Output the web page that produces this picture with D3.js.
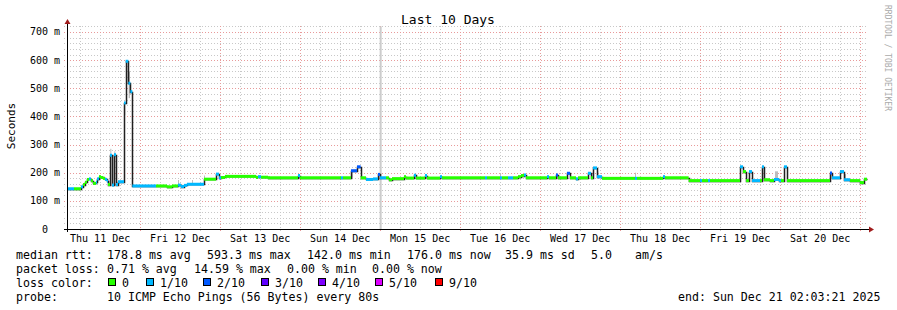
<!DOCTYPE html>
<html>
<head>
<meta charset="utf-8">
<script src="https://cdn.jsdelivr.net/npm/d3@7"></script>
<style>
body { margin: 0; background: #fff; }
text { font-family: "DejaVu Sans Mono", monospace; white-space: pre; }
</style>
</head>
<body>
<svg id="chart" width="897" height="310"></svg>
<script>
// time range of the graph
const startTime = new Date(2025, 11, 11, 2, 3, 21);
const endTime = new Date(2025, 11, 21, 2, 3, 21);

// median rtt steps: [hours since start, median ms, lost pings out of 10]
const medianSteps = [
    [0, 143, 1], [2.1, 143, 0], [4.2, 150, 1], [4.8, 158, 0], [5.4, 166, 0],
    [6.0, 176, 0], [6.6, 178, 1], [7.2, 172, 0], [7.8, 162, 0], [8.7, 166, 1],
    [9.0, 178, 1], [9.6, 186, 0], [10.2, 183, 0], [10.8, 180, 0], [11.4, 176, 1],
    [12.0, 170, 1], [12.3, 158, 0], [12.9, 262, 1], [13.5, 156, 1], [14.1, 264, 1],
    [14.7, 158, 1], [15.3, 168, 1], [17.1, 448, 1], [17.6, 596, 1], [18.4, 518, 1],
    [19.0, 488, 1], [19.6, 153, 1], [26.7, 153, 0], [30.0, 150, 0], [31.5, 153, 0],
    [33.3, 156, 1], [34.2, 151, 1], [35.1, 155, 1], [36.0, 159, 1], [41.1, 177, 0],
    [44.7, 195, 1], [45.6, 182, 1], [46.2, 183, 0], [47.4, 187, 0], [56.7, 183, 0],
    [57.3, 186, 1], [58.2, 184, 0], [60.3, 182, 0], [69.3, 190, 1], [69.9, 182, 0],
    [82.2, 182, 1], [82.8, 182, 0], [85.2, 207, 2], [87.0, 221, 2], [88.1, 182, 0],
    [89.7, 176, 1], [91.8, 178, 1], [93.3, 194, 2], [93.9, 182, 1], [95.7, 182, 0],
    [96.6, 175, 0], [97.5, 179, 0], [101.1, 186, 0], [101.7, 181, 0], [104.1, 191, 1],
    [104.7, 181, 0], [107.4, 190, 1], [108.0, 181, 0], [111.9, 186, 1], [112.5, 182, 0],
    [125.4, 182, 1], [126.0, 182, 0], [129.9, 182, 1], [130.5, 182, 0], [132.3, 182, 1],
    [133.8, 182, 0], [135.3, 186, 0], [136.2, 190, 0], [137.1, 192, 1], [137.7, 182, 0],
    [144.0, 186, 1], [144.6, 182, 0], [146.7, 192, 2], [147.3, 182, 0], [150.0, 198, 2],
    [150.9, 182, 0], [152.7, 178, 1], [153.3, 182, 0], [156.3, 198, 1], [157.2, 182, 0],
    [157.8, 217, 1], [159.0, 186, 1], [160.5, 180, 0], [170.4, 180, 1], [171.0, 180, 0],
    [178.8, 186, 1], [179.4, 182, 0], [186.5, 172, 0], [189.9, 172, 1], [190.5, 172, 0],
    [192.3, 172, 1], [192.9, 172, 0], [201.9, 221, 1], [202.8, 204, 0], [203.7, 172, 0],
    [204.6, 204, 1], [205.5, 172, 1], [207.9, 172, 0], [208.5, 221, 1], [209.1, 175, 0],
    [210.9, 172, 0], [212.1, 176, 1], [213.6, 172, 1], [214.2, 172, 0], [215.1, 221, 1],
    [216.0, 172, 0], [228.9, 199, 2], [229.5, 182, 1], [231.9, 204, 1], [233.1, 175, 1],
    [234.9, 172, 0], [237.9, 165, 0], [239.1, 177, 0]
];

// smoke (spread of the pings): [hour from, hour to, low ms, high ms]
const smoke = [
    [13.0, 13.3, 262, 285], [14.2, 14.5, 264, 276], [17.2, 17.5, 405, 440],
    [18.5, 18.9, 465, 560], [33.3, 33.6, 156, 174], [37.5, 37.8, 160, 174],
    [41.1, 41.4, 177, 190], [60.6, 60.9, 182, 188], [85.2, 85.8, 182, 210],
    [129.9, 130.2, 182, 198], [159.0, 159.4, 186, 205], [170.4, 170.7, 180, 200],
    [212.4, 213.3, 176, 205], [233.4, 233.7, 175, 195]
];

// unknown data span (drawn as gray column)
const unknownSpans = [[93.8, 94.4]];

const yTicks = [0, 100, 200, 300, 400, 500, 600, 700];
const lossColors = ["#26ff00", "#00b8ff", "#0059ff", "#5e00ff", "#7e00ff", "#dd00ff", "#ff0000"];
const lossLabels = ["0", "1/10", "2/10", "3/10", "4/10", "5/10", "9/10"];

const svg = d3.select("#chart");

const x = d3.scaleTime().domain([startTime, endTime]).range([67, 867]);
const y = d3.scaleLinear().domain([0, 720]).range([229, 229 - 720 * 0.28143]);
const hourToDate = h => new Date(startTime.getTime() + h * 3600e3);
const px = v => Math.round(v) + 0.5;
const hx = h => x(hourToDate(h));

function lossIndex(n) {
    if (n <= 4) return n;
    if (n <= 8) return 5;
    return 6;
}

svg.append("rect").attr("width", 897).attr("height", 310).attr("fill", "#fff");

// grid
const grid = svg.append("g").attr("fill", "none").attr("stroke-width", 1);

d3.range(20, 721, 20).filter(v => v % 100 !== 0).forEach(v => {
    grid.append("line")
        .attr("x1", 64).attr("x2", 868)
        .attr("y1", px(y(v))).attr("y2", px(y(v)))
        .attr("stroke", "#c8c8c8").attr("stroke-dasharray", "1,2");
});
d3.timeHour.every(6).range(startTime, endTime).filter(d => d.getHours() !== 0).forEach(d => {
    grid.append("line")
        .attr("x1", px(x(d))).attr("x2", px(x(d)))
        .attr("y1", 26).attr("y2", 232)
        .attr("stroke", "#c8c8c8").attr("stroke-dasharray", "1,2");
});
yTicks.filter(v => v > 0).forEach(v => {
    grid.append("line")
        .attr("x1", 64).attr("x2", 868)
        .attr("y1", px(y(v))).attr("y2", px(y(v)))
        .attr("stroke", "#e89a9a").attr("stroke-dasharray", "1,2");
});
d3.timeDay.range(startTime, endTime).forEach(d => {
    grid.append("line")
        .attr("x1", px(x(d))).attr("x2", px(x(d)))
        .attr("y1", 26).attr("y2", 232)
        .attr("stroke", "#e89a9a").attr("stroke-dasharray", "1,2");
});

// unknown span
svg.selectAll(".unknown")
    .data(unknownSpans)
    .enter()
    .append("rect")
    .attr("class", "unknown")
    .attr("x", d => hx(d[0]))
    .attr("width", d => hx(d[1]) - hx(d[0]))
    .attr("y", y(720))
    .attr("height", y(0) - y(720))
    .attr("fill", "#cccccc");

// smoke
svg.selectAll(".smoke")
    .data(smoke)
    .enter()
    .append("rect")
    .attr("class", "smoke")
    .attr("x", d => hx(d[0]))
    .attr("width", d => hx(d[1]) - hx(d[0]))
    .attr("y", d => y(d[3]))
    .attr("height", d => y(d[2]) - y(d[3]))
    .attr("fill", "#bdbdbd");

// median line
const linePts = medianSteps.map(d => [hourToDate(d[0]), d[1]]);
linePts.push([endTime, medianSteps[medianSteps.length - 1][1]]);

svg.append("path")
    .datum(linePts)
    .attr("d", d3.line().x(d => px(x(d[0]))).y(d => px(y(d[1]))).curve(d3.curveStepAfter))
    .attr("fill", "none")
    .attr("stroke", "#202020")
    .attr("stroke-width", 1.5);

// loss coloured median bands
svg.selectAll(".band")
    .data(medianSteps)
    .enter()
    .append("rect")
    .attr("class", "band")
    .attr("x", d => hx(d[0]))
    .attr("width", (d, i) => {
        const next = i + 1 < medianSteps.length ? hx(medianSteps[i + 1][0]) : x(endTime);
        return Math.max(1, next - hx(d[0]));
    })
    .attr("y", d => y(d[1]) - 1.5)
    .attr("height", 3)
    .attr("fill", d => lossColors[lossIndex(d[2])]);

// axes
svg.append("line")
    .attr("x1", 64).attr("x2", 869)
    .attr("y1", 229.5).attr("y2", 229.5)
    .attr("stroke", "#000");
svg.append("line")
    .attr("x1", 67.5).attr("x2", 67.5)
    .attr("y1", 232).attr("y2", 24)
    .attr("stroke", "#000");
svg.append("path")
    .attr("d", "M869,226.5L874,229.5L869,232.5Z")
    .attr("fill", "#a01c1c");
svg.append("path")
    .attr("d", "M64.5,24L67.5,19L70.5,24Z")
    .attr("fill", "#a01c1c");

// y labels
svg.selectAll(".ylab")
    .data(yTicks)
    .enter()
    .append("text")
    .attr("class", "ylab")
    .attr("x", d => d === 0 ? 48 : 60)
    .attr("y", d => y(d) + 3.5)
    .attr("text-anchor", "end")
    .attr("font-size", "10px")
    .attr("fill", "#000")
    .text(d => d === 0 ? "0" : d + " m");

// x labels at noon
const dayFmt = d3.timeFormat("%a %d %b");
const noons = d3.timeDay.range(d3.timeDay.floor(startTime), endTime)
    .map(d => d3.timeHour.offset(d, 12))
    .filter(d => d >= startTime && d <= endTime);

svg.selectAll(".xlab")
    .data(noons)
    .enter()
    .append("text")
    .attr("class", "xlab")
    .attr("x", d => x(d))
    .attr("y", 241.5)
    .attr("text-anchor", "middle")
    .attr("font-size", "10px")
    .text(d => dayFmt(d));

// title and axis title
svg.append("text")
    .attr("x", 448)
    .attr("y", 24)
    .attr("text-anchor", "middle")
    .attr("font-size", "13px")
    .text("Last 10 Days");

svg.append("text")
    .attr("transform", "translate(15,126) rotate(-90)")
    .attr("text-anchor", "middle")
    .attr("font-size", "11px")
    .text("Seconds");

svg.append("text")
    .attr("transform", "translate(885,5) rotate(90)")
    .attr("font-size", "8px")
    .attr("fill", "#aaaaaa")
    .text("RRDTOOL / TOBI OETIKER");

// legend
const legend = svg.append("g").attr("font-size", "11.6px").attr("fill", "#000");
const legendRows = [
    [[16, "median rtt:"], [107, "178.8 ms avg"], [207, "593.3 ms max"], [307, "142.0 ms min"],
     [407, "176.0 ms now"], [505, "35.9 ms sd"], [591, "5.0"], [635, "am/s"]],
    [[16, "packet loss:"], [107, "0.71 % avg"], [194, "14.59 % max"], [287, "0.00 % min"], [372, "0.00 % now"]],
    [[16, "loss color:"]],
    [[16, "probe:"], [107, "10 ICMP Echo Pings (56 Bytes) every 80s"], [678, "end: Sun Dec 21 02:03:21 2025"]]
];
const rowY = [259, 272.5, 286.7, 300.7];

legendRows.forEach((row, r) => {
    row.forEach(item => {
        legend.append("text")
            .attr("x", item[0])
            .attr("y", rowY[r])
            .text(item[1]);
    });
});

const swatchX = [108.5, 146.5, 203.5, 261.5, 318.5, 375.5, 435.5];
lossColors.forEach((c, i) => {
    legend.append("rect")
        .attr("x", swatchX[i])
        .attr("y", 278.5)
        .attr("width", 7)
        .attr("height", 7)
        .attr("fill", c)
        .attr("stroke", "#000")
        .attr("stroke-width", 1);
    legend.append("text")
        .attr("x", swatchX[i] + 13.5)
        .attr("y", rowY[2])
        .text(lossLabels[i]);
});
</script>
</body>
</html>
